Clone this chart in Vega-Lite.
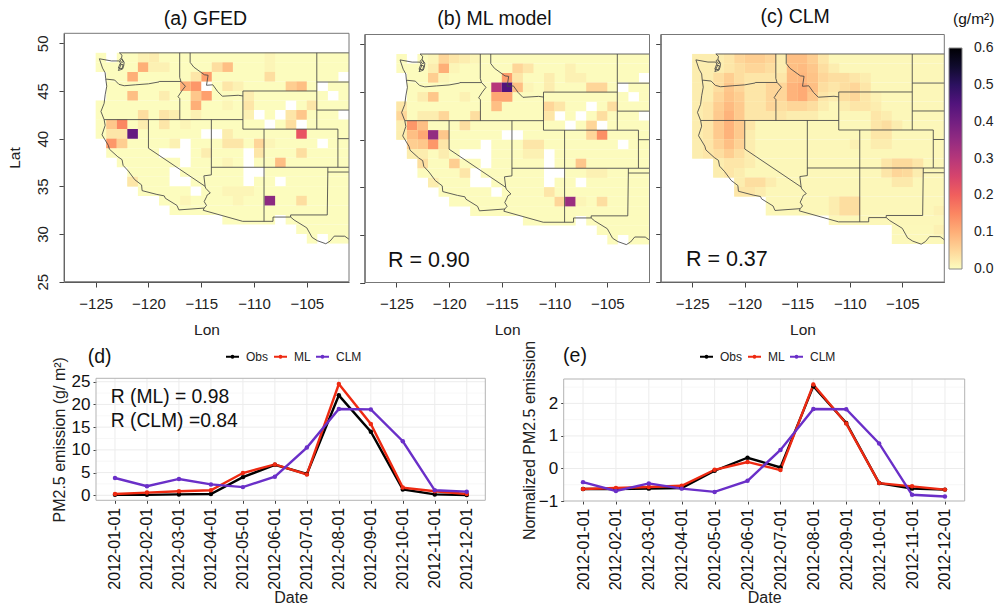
{"$schema":"https://vega.github.io/schema/vega-lite/v6.json","width":998,"height":607,"autosize":"none","padding":0,"background":"white",
"config":{"font":"Liberation Sans","view":{"stroke":null},"axis":{"grid":false,"domainColor":"#555","tickColor":"#444","labelColor":"#222","titleColor":"#222","titleFontWeight":"normal","labelFont":"Liberation Sans","titleFont":"Liberation Sans"}},
"datasets":{
"frame":[{"lon":-128,"lon2":-101,"lat":25,"lat2":51.05}],
"borders":[
{"s":1,"lon":-122.75,"lat":49},{"s":1,"lon":-101,"lat":49},
{"s":2,"lon":-122.75,"lat":49},{"s":2,"lon":-122.5,"lat":48.75},{"s":2,"lon":-122.55,"lat":48.45},{"s":2,"lon":-122.3,"lat":48.0},{"s":2,"lon":-122.35,"lat":47.6},{"s":2,"lon":-122.45,"lat":47.3},{"s":2,"lon":-122.85,"lat":47.15},{"s":2,"lon":-122.6,"lat":47.75},{"s":2,"lon":-122.75,"lat":48.15},{"s":2,"lon":-123.5,"lat":48.15},{"s":2,"lon":-124.65,"lat":48.38},{"s":2,"lon":-124.35,"lat":47.4},{"s":2,"lon":-124.1,"lat":46.9},{"s":2,"lon":-124.05,"lat":46.3},{"s":2,"lon":-123.95,"lat":45.5},{"s":2,"lon":-124.1,"lat":44.6},{"s":2,"lon":-124.2,"lat":43.7},{"s":2,"lon":-124.5,"lat":42.85},{"s":2,"lon":-124.2,"lat":42},{"s":2,"lon":-124.1,"lat":41.4},{"s":2,"lon":-124.4,"lat":40.4},{"s":2,"lon":-123.8,"lat":39.3},{"s":2,"lon":-123.7,"lat":38.9},{"s":2,"lon":-122.9,"lat":38.1},{"s":2,"lon":-122.5,"lat":37.8},{"s":2,"lon":-122.4,"lat":37.2},{"s":2,"lon":-121.9,"lat":36.6},{"s":2,"lon":-121.3,"lat":35.7},{"s":2,"lon":-120.65,"lat":35.15},{"s":2,"lon":-120.6,"lat":34.55},{"s":2,"lon":-119.2,"lat":34.15},{"s":2,"lon":-118.5,"lat":34},{"s":2,"lon":-118.4,"lat":33.75},{"s":2,"lon":-117.3,"lat":33},{"s":2,"lon":-117.12,"lat":32.53},{"s":2,"lon":-114.72,"lat":32.72},{"s":2,"lon":-114.81,"lat":32.49},{"s":2,"lon":-111.07,"lat":31.33},{"s":2,"lon":-108.2,"lat":31.33},{"s":2,"lon":-108.2,"lat":31.78},{"s":2,"lon":-106.53,"lat":31.78},{"s":2,"lon":-106.2,"lat":31.47},{"s":2,"lon":-105,"lat":30.65},{"s":2,"lon":-104.5,"lat":29.65},{"s":2,"lon":-104,"lat":29.3},{"s":2,"lon":-103.2,"lat":28.98},{"s":2,"lon":-102.8,"lat":29.25},{"s":2,"lon":-102.4,"lat":29.78},{"s":2,"lon":-101.4,"lat":29.77},{"s":2,"lon":-101,"lat":29.45},
{"s":3,"lon":-122.85,"lat":47.4},{"s":3,"lon":-122.5,"lat":47.35},{"s":3,"lon":-122.4,"lat":47.75},{"s":3,"lon":-122.7,"lat":47.85},{"s":3,"lon":-122.85,"lat":47.4},
{"s":4,"lon":-122.6,"lat":48.4},{"s":4,"lon":-122.35,"lat":48.05},{"s":4,"lon":-122.55,"lat":48.0},{"s":4,"lon":-122.72,"lat":48.3},{"s":4,"lon":-122.6,"lat":48.4},
{"s":5,"lon":-124.05,"lat":46.25},{"s":5,"lon":-123.2,"lat":46.15},{"s":5,"lon":-122.8,"lat":45.7},{"s":5,"lon":-122.3,"lat":45.55},{"s":5,"lon":-121.2,"lat":45.65},{"s":5,"lon":-120,"lat":45.75},{"s":5,"lon":-119,"lat":45.95},{"s":5,"lon":-118.98,"lat":46},{"s":5,"lon":-116.92,"lat":46},
{"s":6,"lon":-117.04,"lat":49},{"s":6,"lon":-117.04,"lat":46.42},{"s":6,"lon":-116.92,"lat":46},{"s":6,"lon":-116.5,"lat":45.5},{"s":6,"lon":-116.85,"lat":45},{"s":6,"lon":-117.2,"lat":44.4},{"s":6,"lon":-117.03,"lat":44.2},{"s":6,"lon":-117.03,"lat":42},
{"s":7,"lon":-124.2,"lat":42},{"s":7,"lon":-111.05,"lat":42},
{"s":8,"lon":-120,"lat":42},{"s":8,"lon":-120,"lat":39},{"s":8,"lon":-114.63,"lat":35},
{"s":9,"lon":-114.04,"lat":42},{"s":9,"lon":-114.04,"lat":36.2},{"s":9,"lon":-114.75,"lat":36.1},{"s":9,"lon":-114.63,"lat":35},{"s":9,"lon":-114.57,"lat":34.8},{"s":9,"lon":-114.14,"lat":34.3},{"s":9,"lon":-114.43,"lat":34.1},{"s":9,"lon":-114.5,"lat":33.9},{"s":9,"lon":-114.72,"lat":33.4},{"s":9,"lon":-114.5,"lat":33},{"s":9,"lon":-114.72,"lat":32.72},
{"s":10,"lon":-114.04,"lat":37},{"s":10,"lon":-102.04,"lat":37},{"s":10,"lon":-101,"lat":37},
{"s":11,"lon":-109.05,"lat":41},{"s":11,"lon":-109.05,"lat":31.33},
{"s":12,"lon":-103,"lat":37},{"s":12,"lon":-103.06,"lat":32},{"s":12,"lon":-106.53,"lat":32},{"s":12,"lon":-106.53,"lat":31.78},
{"s":13,"lon":-103,"lat":36.5},{"s":13,"lon":-101,"lat":36.5},
{"s":14,"lon":-111.05,"lat":45},{"s":14,"lon":-111.05,"lat":41},{"s":14,"lon":-102.05,"lat":41},{"s":14,"lon":-102.05,"lat":37},
{"s":15,"lon":-111.05,"lat":45},{"s":15,"lon":-104.05,"lat":45},
{"s":16,"lon":-104.05,"lat":49},{"s":16,"lon":-104.05,"lat":41},
{"s":17,"lon":-116.05,"lat":49},{"s":17,"lon":-116.05,"lat":48},{"s":17,"lon":-115.7,"lat":47.5},{"s":17,"lon":-114.7,"lat":46.7},{"s":17,"lon":-114.35,"lat":46.65},{"s":17,"lon":-114.5,"lat":45.6},{"s":17,"lon":-113.9,"lat":45.65},{"s":17,"lon":-113.45,"lat":44.95},{"s":17,"lon":-113,"lat":44.45},{"s":17,"lon":-111.5,"lat":44.55},{"s":17,"lon":-111.05,"lat":44.48},
{"s":18,"lon":-104.05,"lat":45.94},{"s":18,"lon":-101,"lat":45.94},
{"s":19,"lon":-104.05,"lat":43},{"s":19,"lon":-101,"lat":43},
{"s":20,"lon":-102.05,"lat":40},{"s":20,"lon":-101,"lat":40}
],
"a":[
{"lon":-125,"lon2":-124,"lat":48.5,"v":0.001},{"lon":-123,"lon2":-101,"lat":48.5,"v":0.001},{"lon":-125,"lon2":-101,"lat":47.5,"v":0.001},{"lon":-124,"lon2":-102,"lat":46.5,"v":0.001},{"lon":-124,"lon2":-115,"lat":45.5,"v":0.001},{"lon":-114,"lon2":-104,"lat":45.5,"v":0.001},{"lon":-103,"lon2":-101,"lat":45.5,"v":0.001},{"lon":-124,"lon2":-103,"lat":44.5,"v":0.001},{"lon":-102,"lon2":-101,"lat":44.5,"v":0.001},{"lon":-125,"lon2":-107,"lat":43.5,"v":0.001},{"lon":-106,"lon2":-101,"lat":43.5,"v":0.001},{"lon":-125,"lon2":-110,"lat":42.5,"v":0.001},{"lon":-109,"lon2":-108,"lat":42.5,"v":0.001},{"lon":-107,"lon2":-102,"lat":42.5,"v":0.001},{"lon":-125,"lon2":-109,"lat":41.5,"v":0.001},{"lon":-108,"lon2":-106,"lat":41.5,"v":0.001},{"lon":-105,"lon2":-101,"lat":41.5,"v":0.001},{"lon":-125,"lon2":-115,"lat":40.5,"v":0.001},{"lon":-113,"lon2":-101,"lat":40.5,"v":0.001},{"lon":-124,"lon2":-117,"lat":39.5,"v":0.001},{"lon":-116,"lon2":-104,"lat":39.5,"v":0.001},{"lon":-103,"lon2":-101,"lat":39.5,"v":0.001},{"lon":-124,"lon2":-119,"lat":38.5,"v":0.001},{"lon":-116,"lon2":-111,"lat":38.5,"v":0.001},{"lon":-110,"lon2":-101,"lat":38.5,"v":0.001},{"lon":-123,"lon2":-117,"lat":37.5,"v":0.001},{"lon":-116,"lon2":-111,"lat":37.5,"v":0.001},{"lon":-110,"lon2":-101,"lat":37.5,"v":0.001},{"lon":-122,"lon2":-118,"lat":36.5,"v":0.001},{"lon":-117,"lon2":-111,"lat":36.5,"v":0.001},{"lon":-109,"lon2":-101,"lat":36.5,"v":0.001},{"lon":-122,"lon2":-118,"lat":35.5,"v":0.001},{"lon":-116,"lon2":-111,"lat":35.5,"v":0.001},{"lon":-110,"lon2":-108,"lat":35.5,"v":0.001},{"lon":-107,"lon2":-101,"lat":35.5,"v":0.001},{"lon":-121,"lon2":-116,"lat":34.5,"v":0.001},{"lon":-115,"lon2":-101,"lat":34.5,"v":0.001},{"lon":-119,"lon2":-101,"lat":33.5,"v":0.001},{"lon":-118,"lon2":-101,"lat":32.5,"v":0.001},{"lon":-113,"lon2":-108,"lat":31.5,"v":0.001},{"lon":-107,"lon2":-101,"lat":31.5,"v":0.001},{"lon":-106,"lon2":-101,"lat":30.5,"v":0.001},{"lon":-105,"lon2":-104,"lat":29.5,"v":0.001},{"lon":-103,"lon2":-101,"lat":29.5,"v":0.001},
{"lon":-120,"lon2":-119,"lat":48.5,"v":0.02},{"lon":-121,"lon2":-120,"lat":48.5,"v":0.015},{"lon":-109,"lon2":-108,"lat":48.5,"v":0.01},
{"lon":-121,"lon2":-120,"lat":47.5,"v":0.1},{"lon":-120,"lon2":-118,"lat":47.5,"v":0.015},{"lon":-114,"lon2":-113,"lat":47.5,"v":0.04},{"lon":-113,"lon2":-112,"lat":47.5,"v":0.08},{"lon":-109,"lon2":-108,"lat":47.5,"v":0.01},
{"lon":-122,"lon2":-121,"lat":46.5,"v":0.1},{"lon":-115,"lon2":-114,"lat":46.5,"v":0.12},{"lon":-116,"lon2":-115,"lat":46.5,"v":0.03},{"lon":-109,"lon2":-108,"lat":46.5,"v":0.04},
{"lon":-117,"lon2":-116,"lat":45.5,"v":0.1},{"lon":-116,"lon2":-115,"lat":45.5,"v":0.13},{"lon":-113,"lon2":-112,"lat":45.5,"v":0.03},{"lon":-112,"lon2":-111,"lat":45.5,"v":0.015},{"lon":-107,"lon2":-106,"lat":45.5,"v":0.06},{"lon":-106,"lon2":-105,"lat":45.5,"v":0.08},
{"lon":-122,"lon2":-121,"lat":44.5,"v":0.08},{"lon":-119,"lon2":-118,"lat":44.5,"v":0.02},{"lon":-116,"lon2":-115,"lat":44.5,"v":0.07},{"lon":-115,"lon2":-114,"lat":44.5,"v":0.12},{"lon":-111,"lon2":-110,"lat":44.5,"v":0.02},
{"lon":-116,"lon2":-115,"lat":43.5,"v":0.1},{"lon":-113,"lon2":-112,"lat":43.5,"v":0.01},{"lon":-111,"lon2":-110,"lat":43.5,"v":0.03},{"lon":-105,"lon2":-104,"lat":43.5,"v":0.03},
{"lon":-121,"lon2":-120,"lat":42.5,"v":0.04},{"lon":-119,"lon2":-118,"lat":42.5,"v":0.03},{"lon":-118,"lon2":-117,"lat":42.5,"v":0.02},{"lon":-116,"lon2":-115,"lat":42.5,"v":0.015},{"lon":-111,"lon2":-110,"lat":42.5,"v":0.015},{"lon":-107,"lon2":-106,"lat":42.5,"v":0.03},{"lon":-106,"lon2":-105,"lat":42.5,"v":0.07},
{"lon":-124,"lon2":-123,"lat":41.5,"v":0.07},{"lon":-123,"lon2":-122,"lat":41.5,"v":0.15},{"lon":-121,"lon2":-120,"lat":41.5,"v":0.02},{"lon":-119,"lon2":-118,"lat":41.5,"v":0.03},{"lon":-117,"lon2":-116,"lat":41.5,"v":0.01},{"lon":-107,"lon2":-106,"lat":41.5,"v":0.04},
{"lon":-124,"lon2":-122,"lat":40.5,"v":0.03},{"lon":-122,"lon2":-121,"lat":40.5,"v":0.42},{"lon":-113,"lon2":-112,"lat":40.5,"v":0.02},{"lon":-106,"lon2":-105,"lat":40.5,"v":0.22},
{"lon":-124,"lon2":-123,"lat":39.5,"v":0.13},{"lon":-123,"lon2":-122,"lat":39.5,"v":0.06},{"lon":-118,"lon2":-117,"lat":39.5,"v":0.015},{"lon":-113,"lon2":-111,"lat":39.5,"v":0.03},{"lon":-110,"lon2":-109,"lat":39.5,"v":0.05},{"lon":-109,"lon2":-108,"lat":39.5,"v":0.01},
{"lon":-115,"lon2":-114,"lat":38.5,"v":0.02},{"lon":-110,"lon2":-109,"lat":38.5,"v":0.03},{"lon":-106,"lon2":-105,"lat":38.5,"v":0.04},
{"lon":-113,"lon2":-112,"lat":37.5,"v":0.01},{"lon":-108,"lon2":-107,"lat":37.5,"v":0.08},
{"lon":-122,"lon2":-121,"lat":35.5,"v":0.03},
{"lon":-113,"lon2":-110,"lat":34.5,"v":0.01},
{"lon":-109,"lon2":-108,"lat":33.5,"v":0.36},{"lon":-106,"lon2":-105,"lat":33.5,"v":0.04},{"lon":-117,"lon2":-116,"lat":33.5,"v":0.01},{"lon":-112,"lon2":-111,"lat":33.5,"v":0.01}
],
"b":[
{"lon":-125,"lon2":-124,"lat":48.5,"v":0.003},{"lon":-123,"lon2":-101,"lat":48.5,"v":0.003},{"lon":-125,"lon2":-101,"lat":47.5,"v":0.003},{"lon":-124,"lon2":-102,"lat":46.5,"v":0.003},{"lon":-124,"lon2":-104,"lat":45.5,"v":0.003},{"lon":-103,"lon2":-101,"lat":45.5,"v":0.003},{"lon":-124,"lon2":-103,"lat":44.5,"v":0.003},{"lon":-102,"lon2":-101,"lat":44.5,"v":0.003},{"lon":-125,"lon2":-107,"lat":43.5,"v":0.003},{"lon":-106,"lon2":-101,"lat":43.5,"v":0.003},{"lon":-125,"lon2":-110,"lat":42.5,"v":0.003},{"lon":-109,"lon2":-108,"lat":42.5,"v":0.003},{"lon":-107,"lon2":-102,"lat":42.5,"v":0.003},{"lon":-125,"lon2":-109,"lat":41.5,"v":0.003},{"lon":-108,"lon2":-106,"lat":41.5,"v":0.003},{"lon":-105,"lon2":-101,"lat":41.5,"v":0.003},{"lon":-125,"lon2":-115,"lat":40.5,"v":0.003},{"lon":-113,"lon2":-101,"lat":40.5,"v":0.003},{"lon":-124,"lon2":-117,"lat":39.5,"v":0.003},{"lon":-116,"lon2":-104,"lat":39.5,"v":0.003},{"lon":-103,"lon2":-101,"lat":39.5,"v":0.003},{"lon":-124,"lon2":-119,"lat":38.5,"v":0.003},{"lon":-116,"lon2":-111,"lat":38.5,"v":0.003},{"lon":-110,"lon2":-101,"lat":38.5,"v":0.003},{"lon":-123,"lon2":-117,"lat":37.5,"v":0.003},{"lon":-116,"lon2":-111,"lat":37.5,"v":0.003},{"lon":-110,"lon2":-101,"lat":37.5,"v":0.003},{"lon":-123,"lon2":-118,"lat":36.5,"v":0.003},{"lon":-117,"lon2":-111,"lat":36.5,"v":0.003},{"lon":-109,"lon2":-101,"lat":36.5,"v":0.003},{"lon":-122,"lon2":-118,"lat":35.5,"v":0.003},{"lon":-116,"lon2":-111,"lat":35.5,"v":0.003},{"lon":-110,"lon2":-108,"lat":35.5,"v":0.003},{"lon":-107,"lon2":-101,"lat":35.5,"v":0.003},{"lon":-121,"lon2":-116,"lat":34.5,"v":0.003},{"lon":-115,"lon2":-101,"lat":34.5,"v":0.003},{"lon":-120,"lon2":-101,"lat":33.5,"v":0.003},{"lon":-118,"lon2":-101,"lat":32.5,"v":0.003},{"lon":-113,"lon2":-108,"lat":31.5,"v":0.003},{"lon":-107,"lon2":-101,"lat":31.5,"v":0.003},{"lon":-106,"lon2":-101,"lat":30.5,"v":0.003},{"lon":-105,"lon2":-104,"lat":29.5,"v":0.003},{"lon":-103,"lon2":-101,"lat":29.5,"v":0.003},
{"lon":-122,"lon2":-121,"lat":48.5,"v":0.01},{"lon":-121,"lon2":-120,"lat":48.5,"v":0.05},{"lon":-120,"lon2":-119,"lat":48.5,"v":0.03},{"lon":-119,"lon2":-118,"lat":48.5,"v":0.02},{"lon":-118,"lon2":-117,"lat":48.5,"v":0.01},
{"lon":-122,"lon2":-121,"lat":47.5,"v":0.02},{"lon":-121,"lon2":-120,"lat":47.5,"v":0.1},{"lon":-120,"lon2":-119,"lat":47.5,"v":0.01},{"lon":-114,"lon2":-113,"lat":47.5,"v":0.05},{"lon":-113,"lon2":-112,"lat":47.5,"v":0.03},{"lon":-109,"lon2":-108,"lat":47.5,"v":0.015},
{"lon":-122,"lon2":-121,"lat":46.5,"v":0.06},{"lon":-121,"lon2":-120,"lat":46.5,"v":0.01},{"lon":-115,"lon2":-114,"lat":46.5,"v":0.12},{"lon":-114,"lon2":-113,"lat":46.5,"v":0.03},{"lon":-111,"lon2":-110,"lat":46.5,"v":0.02},{"lon":-109,"lon2":-107,"lat":46.5,"v":0.015},
{"lon":-116,"lon2":-115,"lat":45.5,"v":0.3},{"lon":-115,"lon2":-114,"lat":45.5,"v":0.45},{"lon":-114,"lon2":-113,"lat":45.5,"v":0.08},{"lon":-113,"lon2":-112,"lat":45.5,"v":0.01},{"lon":-111,"lon2":-110,"lat":45.5,"v":0.02},{"lon":-107,"lon2":-105,"lat":45.5,"v":0.05},
{"lon":-123,"lon2":-122,"lat":44.5,"v":0.02},{"lon":-122,"lon2":-121,"lat":44.5,"v":0.07},{"lon":-119,"lon2":-118,"lat":44.5,"v":0.015},{"lon":-116,"lon2":-114,"lat":44.5,"v":0.11},
{"lon":-125,"lon2":-124,"lat":43.5,"v":0.03},{"lon":-116,"lon2":-115,"lat":43.5,"v":0.08},{"lon":-111,"lon2":-110,"lat":43.5,"v":0.05},{"lon":-110,"lon2":-109,"lat":43.5,"v":0.03},{"lon":-105,"lon2":-104,"lat":43.5,"v":0.04},
{"lon":-125,"lon2":-124,"lat":42.5,"v":0.05},{"lon":-123,"lon2":-121,"lat":42.5,"v":0.02},{"lon":-121,"lon2":-120,"lat":42.5,"v":0.05},{"lon":-118,"lon2":-117,"lat":42.5,"v":0.04},{"lon":-111,"lon2":-110,"lat":42.5,"v":0.03},{"lon":-106,"lon2":-105,"lat":42.5,"v":0.04},
{"lon":-125,"lon2":-124,"lat":41.5,"v":0.02},{"lon":-124,"lon2":-123,"lat":41.5,"v":0.13},{"lon":-123,"lon2":-122,"lat":41.5,"v":0.08},{"lon":-119,"lon2":-118,"lat":41.5,"v":0.04},{"lon":-107,"lon2":-106,"lat":41.5,"v":0.05},
{"lon":-125,"lon2":-124,"lat":40.5,"v":0.02},{"lon":-124,"lon2":-123,"lat":40.5,"v":0.08},{"lon":-123,"lon2":-122,"lat":40.5,"v":0.11},{"lon":-122,"lon2":-121,"lat":40.5,"v":0.35},{"lon":-121,"lon2":-120,"lat":40.5,"v":0.07},{"lon":-107,"lon2":-106,"lat":40.5,"v":0.05},{"lon":-106,"lon2":-105,"lat":40.5,"v":0.14},
{"lon":-124,"lon2":-123,"lat":39.5,"v":0.06},{"lon":-123,"lon2":-122,"lat":39.5,"v":0.07},{"lon":-122,"lon2":-121,"lat":39.5,"v":0.13},{"lon":-121,"lon2":-120,"lat":39.5,"v":0.03},{"lon":-113,"lon2":-111,"lat":39.5,"v":0.03},
{"lon":-124,"lon2":-122,"lat":38.5,"v":0.02},{"lon":-121,"lon2":-120,"lat":38.5,"v":0.02},{"lon":-113,"lon2":-111,"lat":38.5,"v":0.015},
{"lon":-123,"lon2":-122,"lat":37.5,"v":0.04},{"lon":-120,"lon2":-119,"lat":37.5,"v":0.06},{"lon":-108,"lon2":-107,"lat":37.5,"v":0.07},
{"lon":-119,"lon2":-118,"lat":36.5,"v":0.03},{"lon":-107,"lon2":-105,"lat":36.5,"v":0.015},
{"lon":-122,"lon2":-121,"lat":35.5,"v":0.02},
{"lon":-111,"lon2":-110,"lat":34.5,"v":0.03},
{"lon":-110,"lon2":-109,"lat":33.5,"v":0.05},{"lon":-109,"lon2":-108,"lat":33.5,"v":0.34},{"lon":-108,"lon2":-107,"lat":33.5,"v":0.01},{"lon":-106,"lon2":-105,"lat":33.5,"v":0.04}
],
"c":[
{"lon":-125,"lon2":-101,"lat":48.5,"v":0.008},{"lon":-125,"lon2":-101,"lat":47.5,"v":0.008},{"lon":-125,"lon2":-101,"lat":46.5,"v":0.008},{"lon":-125,"lon2":-101,"lat":45.5,"v":0.008},{"lon":-125,"lon2":-101,"lat":44.5,"v":0.008},{"lon":-125,"lon2":-101,"lat":43.5,"v":0.008},{"lon":-125,"lon2":-101,"lat":42.5,"v":0.008},{"lon":-125,"lon2":-101,"lat":41.5,"v":0.008},{"lon":-125,"lon2":-101,"lat":40.5,"v":0.008},{"lon":-125,"lon2":-101,"lat":39.5,"v":0.008},{"lon":-125,"lon2":-101,"lat":38.5,"v":0.008},{"lon":-123,"lon2":-101,"lat":37.5,"v":0.008},{"lon":-123,"lon2":-101,"lat":36.5,"v":0.008},{"lon":-121,"lon2":-101,"lat":35.5,"v":0.008},{"lon":-121,"lon2":-101,"lat":34.5,"v":0.008},{"lon":-118,"lon2":-101,"lat":33.5,"v":0.008},{"lon":-118,"lon2":-101,"lat":32.5,"v":0.008},{"lon":-112,"lon2":-101,"lat":31.5,"v":0.008},{"lon":-106,"lon2":-101,"lat":30.5,"v":0.006},{"lon":-106,"lon2":-101,"lat":29.5,"v":0.006},
{"lon":-125,"lon2":-122,"lat":48.5,"v":0.02},{"lon":-122,"lon2":-121,"lat":48.5,"v":0.03},{"lon":-121,"lon2":-120,"lat":48.5,"v":0.05},{"lon":-120,"lon2":-118,"lat":48.5,"v":0.06},{"lon":-118,"lon2":-117,"lat":48.5,"v":0.05},{"lon":-117,"lon2":-116,"lat":48.5,"v":0.02},{"lon":-116,"lon2":-114,"lat":48.5,"v":0.08},{"lon":-114,"lon2":-113,"lat":48.5,"v":0.06},{"lon":-113,"lon2":-112,"lat":48.5,"v":0.03},
{"lon":-125,"lon2":-122,"lat":47.5,"v":0.02},{"lon":-122,"lon2":-121,"lat":47.5,"v":0.03},{"lon":-121,"lon2":-120,"lat":47.5,"v":0.04},{"lon":-120,"lon2":-118,"lat":47.5,"v":0.05},{"lon":-118,"lon2":-117,"lat":47.5,"v":0.04},{"lon":-117,"lon2":-116,"lat":47.5,"v":0.02},{"lon":-116,"lon2":-115,"lat":47.5,"v":0.08},{"lon":-115,"lon2":-114,"lat":47.5,"v":0.085},{"lon":-114,"lon2":-113,"lat":47.5,"v":0.07},{"lon":-113,"lon2":-112,"lat":47.5,"v":0.04},{"lon":-112,"lon2":-111,"lat":47.5,"v":0.02},
{"lon":-125,"lon2":-123,"lat":46.5,"v":0.02},{"lon":-123,"lon2":-122,"lat":46.5,"v":0.04},{"lon":-122,"lon2":-121,"lat":46.5,"v":0.06},{"lon":-121,"lon2":-120,"lat":46.5,"v":0.04},{"lon":-120,"lon2":-116,"lat":46.5,"v":0.03},{"lon":-116,"lon2":-115,"lat":46.5,"v":0.085},{"lon":-115,"lon2":-114,"lat":46.5,"v":0.09},{"lon":-114,"lon2":-113,"lat":46.5,"v":0.075},{"lon":-113,"lon2":-112,"lat":46.5,"v":0.05},{"lon":-112,"lon2":-110,"lat":46.5,"v":0.04},{"lon":-110,"lon2":-109,"lat":46.5,"v":0.03},{"lon":-109,"lon2":-108,"lat":46.5,"v":0.02},
{"lon":-125,"lon2":-123,"lat":45.5,"v":0.02},{"lon":-123,"lon2":-122,"lat":45.5,"v":0.04},{"lon":-122,"lon2":-121,"lat":45.5,"v":0.07},{"lon":-121,"lon2":-120,"lat":45.5,"v":0.05},{"lon":-120,"lon2":-118,"lat":45.5,"v":0.03},{"lon":-118,"lon2":-116,"lat":45.5,"v":0.05},{"lon":-116,"lon2":-115,"lat":45.5,"v":0.095},{"lon":-115,"lon2":-114,"lat":45.5,"v":0.105},{"lon":-114,"lon2":-113,"lat":45.5,"v":0.08},{"lon":-113,"lon2":-112,"lat":45.5,"v":0.04},{"lon":-112,"lon2":-111,"lat":45.5,"v":0.03},{"lon":-111,"lon2":-110,"lat":45.5,"v":0.04},{"lon":-110,"lon2":-109,"lat":45.5,"v":0.05},{"lon":-109,"lon2":-108,"lat":45.5,"v":0.03},
{"lon":-125,"lon2":-123,"lat":44.5,"v":0.02},{"lon":-123,"lon2":-122,"lat":44.5,"v":0.05},{"lon":-122,"lon2":-121,"lat":44.5,"v":0.075},{"lon":-121,"lon2":-120,"lat":44.5,"v":0.06},{"lon":-120,"lon2":-118,"lat":44.5,"v":0.03},{"lon":-118,"lon2":-116,"lat":44.5,"v":0.05},{"lon":-116,"lon2":-115,"lat":44.5,"v":0.095},{"lon":-115,"lon2":-114,"lat":44.5,"v":0.105},{"lon":-114,"lon2":-113,"lat":44.5,"v":0.07},{"lon":-113,"lon2":-112,"lat":44.5,"v":0.03},{"lon":-112,"lon2":-111,"lat":44.5,"v":0.02},{"lon":-111,"lon2":-110,"lat":44.5,"v":0.04},{"lon":-110,"lon2":-109,"lat":44.5,"v":0.05},{"lon":-109,"lon2":-108,"lat":44.5,"v":0.03},{"lon":-108,"lon2":-107,"lat":44.5,"v":0.015},
{"lon":-125,"lon2":-124,"lat":43.5,"v":0.02},{"lon":-124,"lon2":-123,"lat":43.5,"v":0.03},{"lon":-123,"lon2":-122,"lat":43.5,"v":0.06},{"lon":-122,"lon2":-121,"lat":43.5,"v":0.085},{"lon":-121,"lon2":-120,"lat":43.5,"v":0.065},{"lon":-120,"lon2":-118,"lat":43.5,"v":0.03},{"lon":-118,"lon2":-117,"lat":43.5,"v":0.05},{"lon":-117,"lon2":-116,"lat":43.5,"v":0.04},{"lon":-116,"lon2":-114,"lat":43.5,"v":0.05},{"lon":-114,"lon2":-113,"lat":43.5,"v":0.04},{"lon":-113,"lon2":-112,"lat":43.5,"v":0.02},{"lon":-111,"lon2":-110,"lat":43.5,"v":0.02},{"lon":-110,"lon2":-108,"lat":43.5,"v":0.03},{"lon":-108,"lon2":-107,"lat":43.5,"v":0.02},
{"lon":-125,"lon2":-124,"lat":42.5,"v":0.02},{"lon":-124,"lon2":-123,"lat":42.5,"v":0.03},{"lon":-123,"lon2":-122,"lat":42.5,"v":0.065},{"lon":-122,"lon2":-121,"lat":42.5,"v":0.095},{"lon":-121,"lon2":-120,"lat":42.5,"v":0.065},{"lon":-120,"lon2":-116,"lat":42.5,"v":0.03},{"lon":-116,"lon2":-113,"lat":42.5,"v":0.02},{"lon":-108,"lon2":-107,"lat":42.5,"v":0.03},{"lon":-107,"lon2":-106,"lat":42.5,"v":0.02},
{"lon":-125,"lon2":-124,"lat":41.5,"v":0.02},{"lon":-124,"lon2":-123,"lat":41.5,"v":0.03},{"lon":-123,"lon2":-122,"lat":41.5,"v":0.065},{"lon":-122,"lon2":-121,"lat":41.5,"v":0.095},{"lon":-121,"lon2":-120,"lat":41.5,"v":0.065},{"lon":-120,"lon2":-119,"lat":41.5,"v":0.03},{"lon":-108,"lon2":-107,"lat":41.5,"v":0.03},{"lon":-107,"lon2":-106,"lat":41.5,"v":0.04},{"lon":-106,"lon2":-105,"lat":41.5,"v":0.02},
{"lon":-125,"lon2":-124,"lat":40.5,"v":0.02},{"lon":-124,"lon2":-123,"lat":40.5,"v":0.03},{"lon":-123,"lon2":-122,"lat":40.5,"v":0.065},{"lon":-122,"lon2":-121,"lat":40.5,"v":0.095},{"lon":-121,"lon2":-120,"lat":40.5,"v":0.065},{"lon":-120,"lon2":-119,"lat":40.5,"v":0.02},{"lon":-108,"lon2":-106,"lat":40.5,"v":0.03},
{"lon":-125,"lon2":-124,"lat":39.5,"v":0.02},{"lon":-124,"lon2":-123,"lat":39.5,"v":0.03},{"lon":-123,"lon2":-122,"lat":39.5,"v":0.055},{"lon":-122,"lon2":-121,"lat":39.5,"v":0.08},{"lon":-121,"lon2":-120,"lat":39.5,"v":0.055},{"lon":-120,"lon2":-119,"lat":39.5,"v":0.02},{"lon":-110,"lon2":-109,"lat":39.5,"v":0.015},{"lon":-108,"lon2":-106,"lat":39.5,"v":0.02},
{"lon":-125,"lon2":-124,"lat":38.5,"v":0.02},{"lon":-124,"lon2":-123,"lat":38.5,"v":0.03},{"lon":-123,"lon2":-122,"lat":38.5,"v":0.04},{"lon":-122,"lon2":-121,"lat":38.5,"v":0.06},{"lon":-121,"lon2":-120,"lat":38.5,"v":0.04},{"lon":-120,"lon2":-119,"lat":38.5,"v":0.02},
{"lon":-123,"lon2":-122,"lat":37.5,"v":0.02},{"lon":-122,"lon2":-120,"lat":37.5,"v":0.03},{"lon":-120,"lon2":-119,"lat":37.5,"v":0.02},{"lon":-107,"lon2":-106,"lat":37.5,"v":0.03},{"lon":-106,"lon2":-104,"lat":37.5,"v":0.045},{"lon":-104,"lon2":-103,"lat":37.5,"v":0.03},
{"lon":-123,"lon2":-122,"lat":36.5,"v":0.02},{"lon":-122,"lon2":-121,"lat":36.5,"v":0.03},{"lon":-121,"lon2":-120,"lat":36.5,"v":0.02},{"lon":-107,"lon2":-106,"lat":36.5,"v":0.03},{"lon":-106,"lon2":-105,"lat":36.5,"v":0.05},{"lon":-105,"lon2":-104,"lat":36.5,"v":0.045},{"lon":-104,"lon2":-103,"lat":36.5,"v":0.02},
{"lon":-121,"lon2":-120,"lat":35.5,"v":0.02},{"lon":-120,"lon2":-118,"lat":35.5,"v":0.04},{"lon":-118,"lon2":-117,"lat":35.5,"v":0.02},{"lon":-106,"lon2":-104,"lat":35.5,"v":0.025},
{"lon":-121,"lon2":-119,"lat":34.5,"v":0.03},{"lon":-119,"lon2":-118,"lat":34.5,"v":0.02},
{"lon":-112,"lon2":-111,"lat":33.5,"v":0.02},{"lon":-111,"lon2":-109,"lat":33.5,"v":0.04},
{"lon":-112,"lon2":-111,"lat":32.5,"v":0.02},{"lon":-111,"lon2":-109,"lat":32.5,"v":0.04},{"lon":-102,"lon2":-101,"lat":32.5,"v":0.015},
{"lon":-102,"lon2":-101,"lat":30.5,"v":0.015}
],
"gridd_major":[{"m":1,"m2":1,"y":-1.1,"y2":25.75},{"m":2,"m2":2,"y":-1.1,"y2":25.75},{"m":3,"m2":3,"y":-1.1,"y2":25.75},{"m":4,"m2":4,"y":-1.1,"y2":25.75},{"m":5,"m2":5,"y":-1.1,"y2":25.75},{"m":6,"m2":6,"y":-1.1,"y2":25.75},{"m":7,"m2":7,"y":-1.1,"y2":25.75},{"m":8,"m2":8,"y":-1.1,"y2":25.75},{"m":9,"m2":9,"y":-1.1,"y2":25.75},{"m":10,"m2":10,"y":-1.1,"y2":25.75},{"m":11,"m2":11,"y":-1.1,"y2":25.75},{"m":12,"m2":12,"y":-1.1,"y2":25.75},{"m":0.406,"m2":12.58,"y":0,"y2":0},{"m":0.406,"m2":12.58,"y":5,"y2":5},{"m":0.406,"m2":12.58,"y":10,"y2":10},{"m":0.406,"m2":12.58,"y":15,"y2":15},{"m":0.406,"m2":12.58,"y":20,"y2":20},{"m":0.406,"m2":12.58,"y":25,"y2":25}],
"gridd_minor":[{"m":0.406,"m2":12.58,"y":2.5,"y2":2.5},{"m":0.406,"m2":12.58,"y":7.5,"y2":7.5},{"m":0.406,"m2":12.58,"y":12.5,"y2":12.5},{"m":0.406,"m2":12.58,"y":17.5,"y2":17.5},{"m":0.406,"m2":12.58,"y":22.5,"y2":22.5}],
"gride_major":[{"m":1,"m2":1,"y":-1,"y2":2.75},{"m":2,"m2":2,"y":-1,"y2":2.75},{"m":3,"m2":3,"y":-1,"y2":2.75},{"m":4,"m2":4,"y":-1,"y2":2.75},{"m":5,"m2":5,"y":-1,"y2":2.75},{"m":6,"m2":6,"y":-1,"y2":2.75},{"m":7,"m2":7,"y":-1,"y2":2.75},{"m":8,"m2":8,"y":-1,"y2":2.75},{"m":9,"m2":9,"y":-1,"y2":2.75},{"m":10,"m2":10,"y":-1,"y2":2.75},{"m":11,"m2":11,"y":-1,"y2":2.75},{"m":12,"m2":12,"y":-1,"y2":2.75},{"m":0.413,"m2":12.6,"y":0,"y2":0},{"m":0.413,"m2":12.6,"y":1,"y2":1},{"m":0.413,"m2":12.6,"y":2,"y2":2}],
"gride_minor":[{"m":0.413,"m2":12.6,"y":-0.5,"y2":-0.5},{"m":0.413,"m2":12.6,"y":0.5,"y2":0.5},{"m":0.413,"m2":12.6,"y":1.5,"y2":1.5},{"m":0.413,"m2":12.6,"y":2.5,"y2":2.5}],
"d":[
{"m":1,"s":"Obs","y":0.1},{"m":2,"s":"Obs","y":0.1},{"m":3,"s":"Obs","y":0.2},{"m":4,"s":"Obs","y":0.3},{"m":5,"s":"Obs","y":4.0},{"m":6,"s":"Obs","y":6.7},{"m":7,"s":"Obs","y":4.7},{"m":8,"s":"Obs","y":22},{"m":9,"s":"Obs","y":14},{"m":10,"s":"Obs","y":1.3},{"m":11,"s":"Obs","y":0.2},{"m":12,"s":"Obs","y":0.05},
{"m":1,"s":"ML","y":0.3},{"m":2,"s":"ML","y":0.6},{"m":3,"s":"ML","y":0.9},{"m":4,"s":"ML","y":1.1},{"m":5,"s":"ML","y":4.9},{"m":6,"s":"ML","y":6.8},{"m":7,"s":"ML","y":4.6},{"m":8,"s":"ML","y":24.5},{"m":9,"s":"ML","y":15.7},{"m":10,"s":"ML","y":1.7},{"m":11,"s":"ML","y":0.9},{"m":12,"s":"ML","y":0.3},
{"m":1,"s":"CLM","y":3.8},{"m":2,"s":"CLM","y":2.0},{"m":3,"s":"CLM","y":3.6},{"m":4,"s":"CLM","y":2.4},{"m":5,"s":"CLM","y":1.8},{"m":6,"s":"CLM","y":4.1},{"m":7,"s":"CLM","y":10.5},{"m":8,"s":"CLM","y":19},{"m":9,"s":"CLM","y":18.9},{"m":10,"s":"CLM","y":11.9},{"m":11,"s":"CLM","y":1.1},{"m":12,"s":"CLM","y":0.8}
],
"e":[
{"m":1,"s":"Obs","y":-0.63},{"m":2,"s":"Obs","y":-0.63},{"m":3,"s":"Obs","y":-0.62},{"m":4,"s":"Obs","y":-0.6},{"m":5,"s":"Obs","y":-0.07},{"m":6,"s":"Obs","y":0.33},{"m":7,"s":"Obs","y":0.03},{"m":8,"s":"Obs","y":2.53},{"m":9,"s":"Obs","y":1.4},{"m":10,"s":"Obs","y":-0.45},{"m":11,"s":"Obs","y":-0.62},{"m":12,"s":"Obs","y":-0.65},
{"m":1,"s":"ML","y":-0.63},{"m":2,"s":"ML","y":-0.6},{"m":3,"s":"ML","y":-0.57},{"m":4,"s":"ML","y":-0.53},{"m":5,"s":"ML","y":-0.04},{"m":6,"s":"ML","y":0.2},{"m":7,"s":"ML","y":-0.05},{"m":8,"s":"ML","y":2.58},{"m":9,"s":"ML","y":1.38},{"m":10,"s":"ML","y":-0.45},{"m":11,"s":"ML","y":-0.55},{"m":12,"s":"ML","y":-0.65},
{"m":1,"s":"CLM","y":-0.42},{"m":2,"s":"CLM","y":-0.69},{"m":3,"s":"CLM","y":-0.46},{"m":4,"s":"CLM","y":-0.62},{"m":5,"s":"CLM","y":-0.72},{"m":6,"s":"CLM","y":-0.38},{"m":7,"s":"CLM","y":0.57},{"m":8,"s":"CLM","y":1.83},{"m":9,"s":"CLM","y":1.82},{"m":10,"s":"CLM","y":0.77},{"m":11,"s":"CLM","y":-0.81},{"m":12,"s":"CLM","y":-0.86}
]
},
"resolve":{"scale":{"x":"independent","y":"independent","color":"independent"},"axis":{"x":"independent","y":"independent"},"legend":{"color":"independent"}},
"layer":[
{"layer":[
{"data":{"name":"a"},"mark":{"type":"rect","height":9.6},"encoding":{
"x":{"field":"lon","type":"quantitative","scale":{"domain":[-128,-101],"range":[64,349],"nice":false,"zero":false},"axis":{"orient":"bottom","offset":-325,"values":[-125,-120,-115,-110,-105],"title":"Lon","format":"d","labelFontSize":15,"titleFontSize":15.5,"labelPadding":9,"titlePadding":11,"tickSize":5,"grid":false}},
"x2":{"field":"lon2"},
"y":{"field":"lat","type":"quantitative","scale":{"domain":[25,51.05],"range":[281.7,33.3],"nice":false,"zero":false},"axis":{"orient":"left","offset":-64,"values":[25,30,35,40,45,50],"title":"Lat","format":"d","labelFontSize":15,"titleFontSize":15.5,"labelAngle":-90,"labelAlign":"center","labelBaseline":"bottom","labelPadding":9,"titlePadding":13,"tickSize":5,"grid":false}},
"color":{"field":"v","type":"quantitative","scale":{"scheme":"magma","reverse":true,"domain":[0,0.6]},"legend":null}}},
{"data":{"name":"borders"},"transform":[{"window":[{"op":"row_number","as":"i"}]}],"mark":{"type":"line","stroke":"#444","strokeWidth":0.85},"encoding":{"x":{"field":"lon","type":"quantitative"},"y":{"field":"lat","type":"quantitative"},"detail":{"field":"s"},"order":{"field":"i","type":"quantitative"}}},
{"data":{"name":"frame"},"mark":{"type":"rect","fill":null,"stroke":"#777","strokeWidth":1},"encoding":{"x":{"field":"lon","type":"quantitative"},"x2":{"field":"lon2"},"y":{"field":"lat","type":"quantitative"},"y2":{"field":"lat2"}}},
{"data":{"values":[{"lon":-114.6,"lat":52.5,"t":"(a) GFED"}]},"mark":{"type":"text","fontSize":19.5,"color":"#111"},"encoding":{"x":{"field":"lon","type":"quantitative"},"y":{"field":"lat","type":"quantitative"},"text":{"field":"t"}}}
]},
{"layer":[
{"data":{"name":"b"},"mark":{"type":"rect","height":9.6},"encoding":{
"x":{"field":"lon","type":"quantitative","scale":{"domain":[-128,-101],"range":[364.7,649.5],"nice":false,"zero":false},"axis":{"orient":"bottom","offset":-325,"values":[-125,-120,-115,-110,-105],"title":"Lon","format":"d","labelFontSize":15,"titleFontSize":15.5,"labelPadding":9,"titlePadding":11,"tickSize":5,"grid":false}},
"x2":{"field":"lon2"},
"y":{"field":"lat","type":"quantitative","scale":{"domain":[25,51.05],"range":[282.5,34.5],"nice":false,"zero":false},"axis":{"orient":"left","offset":-364.7,"values":[25,30,35,40,45,50],"title":null,"labels":false,"tickSize":5,"grid":false}},
"color":{"field":"v","type":"quantitative","scale":{"scheme":"magma","reverse":true,"domain":[0,0.6]},"legend":null}}},
{"data":{"name":"borders"},"transform":[{"window":[{"op":"row_number","as":"i"}]}],"mark":{"type":"line","stroke":"#444","strokeWidth":0.85},"encoding":{"x":{"field":"lon","type":"quantitative"},"y":{"field":"lat","type":"quantitative"},"detail":{"field":"s"},"order":{"field":"i","type":"quantitative"}}},
{"data":{"name":"frame"},"mark":{"type":"rect","fill":null,"stroke":"#777","strokeWidth":1},"encoding":{"x":{"field":"lon","type":"quantitative"},"x2":{"field":"lon2"},"y":{"field":"lat","type":"quantitative"},"y2":{"field":"lat2"}}},
{"data":{"values":[{"lon":-115.7,"lat":52.7,"t":"(b) ML model"}]},"mark":{"type":"text","fontSize":19.5,"color":"#111"},"encoding":{"x":{"field":"lon","type":"quantitative"},"y":{"field":"lat","type":"quantitative"},"text":{"field":"t"}}},
{"data":{"values":[{"lon":-125.8,"lat":27.3,"t":"R = 0.90"}]},"mark":{"type":"text","fontSize":21.5,"align":"left","color":"#111"},"encoding":{"x":{"field":"lon","type":"quantitative"},"y":{"field":"lat","type":"quantitative"},"text":{"field":"t"}}}
]},
{"layer":[
{"data":{"name":"c"},"mark":{"type":"rect","height":9.6},"encoding":{
"x":{"field":"lon","type":"quantitative","scale":{"domain":[-128,-101],"range":[660.7,944.3],"nice":false,"zero":false},"axis":{"orient":"bottom","offset":-325,"values":[-125,-120,-115,-110,-105],"title":"Lon","format":"d","labelFontSize":15,"titleFontSize":15.5,"labelPadding":9,"titlePadding":11,"tickSize":5,"grid":false}},
"x2":{"field":"lon2"},
"y":{"field":"lat","type":"quantitative","scale":{"domain":[25,51.05],"range":[282,34.5],"nice":false,"zero":false},"axis":{"orient":"left","offset":-660.7,"values":[25,30,35,40,45,50],"title":null,"labels":false,"tickSize":5,"grid":false}},
"color":{"field":"v","type":"quantitative","scale":{"scheme":"magma","reverse":true,"domain":[0,0.6]},"legend":{"orient":"none","legendX":949,"legendY":48,"gradientLength":221,"gradientThickness":13,"title":null,"values":[0,0.1,0.2,0.3,0.4,0.5,0.6],"format":".1f","labelFontSize":14,"labelColor":"#222","labelOffset":12,"gradientStrokeColor":"#888","gradientStrokeWidth":1,"encode":{"labels":{"update":{"baseline":{"value":"middle"}}}}}}}},
{"data":{"name":"borders"},"transform":[{"window":[{"op":"row_number","as":"i"}]}],"mark":{"type":"line","stroke":"#444","strokeWidth":0.85},"encoding":{"x":{"field":"lon","type":"quantitative"},"y":{"field":"lat","type":"quantitative"},"detail":{"field":"s"},"order":{"field":"i","type":"quantitative"}}},
{"data":{"name":"frame"},"mark":{"type":"rect","fill":null,"stroke":"#777","strokeWidth":1},"encoding":{"x":{"field":"lon","type":"quantitative"},"x2":{"field":"lon2"},"y":{"field":"lat","type":"quantitative"},"y2":{"field":"lat2"}}},
{"data":{"values":[{"lon":-115.2,"lat":52.9,"t":"(c) CLM"}]},"mark":{"type":"text","fontSize":19.5,"color":"#111"},"encoding":{"x":{"field":"lon","type":"quantitative"},"y":{"field":"lat","type":"quantitative"},"text":{"field":"t"}}},
{"data":{"values":[{"lon":-98.2,"lat":52.7,"t":"(g/m²)"}]},"mark":{"type":"text","fontSize":15.5,"color":"#111"},"encoding":{"x":{"field":"lon","type":"quantitative"},"y":{"field":"lat","type":"quantitative"},"text":{"field":"t"}}},
{"data":{"values":[{"lon":-125.6,"lat":27.3,"t":"R = 0.37"}]},"mark":{"type":"text","fontSize":21.5,"align":"left","color":"#111"},"encoding":{"x":{"field":"lon","type":"quantitative"},"y":{"field":"lat","type":"quantitative"},"text":{"field":"t"}}}
]},
{"layer":[
{"data":{"name":"gridd_major"},"mark":{"type":"rule","stroke":"#ececec","strokeWidth":1},"encoding":{
"x":{"field":"m","type":"quantitative","scale":{"domain":[0.406,12.58],"range":[96,485.3],"nice":false,"zero":false},"axis":{"orient":"bottom","offset":-106.7,"values":[1,2,3,4,5,6,7,8,9,10,11,12],"title":"Date","labelExpr":"'2012-'+(datum.value<10?'0':'')+datum.value+'-01'","labelAngle":-90,"labelAlign":"right","labelBaseline":"middle","labelFontSize":16,"titleFontSize":16,"labelPadding":4,"titlePadding":0,"tickSize":3,"domain":false,"grid":false,"labelOverlap":false,"labelColor":"#111"}},
"x2":{"field":"m2"},
"y":{"field":"y","type":"quantitative","scale":{"domain":[-1.1,25.75],"range":[500.3,378.3],"nice":false,"zero":false},"axis":{"orient":"left","offset":-96,"values":[0,5,10,15,20,25],"title":"PM2.5 emission (g/ m²)","labelFontSize":17,"titleFontSize":16,"labelPadding":3,"titlePadding":4,"tickSize":3,"domain":false,"grid":false,"labelColor":"#111"}},
"y2":{"field":"y2"}}},
{"data":{"name":"gridd_minor"},"mark":{"type":"rule","stroke":"#f3f3f3","strokeWidth":0.7},"encoding":{"x":{"field":"m","type":"quantitative"},"x2":{"field":"m2"},"y":{"field":"y","type":"quantitative"},"y2":{"field":"y2"}}},
{"data":{"values":[{"m":0.406,"m2":12.58,"y":-1.1,"y2":25.75}]},"mark":{"type":"rect","fill":null,"stroke":"#b3b3b3","strokeWidth":1},"encoding":{"x":{"field":"m","type":"quantitative"},"x2":{"field":"m2"},"y":{"field":"y","type":"quantitative"},"y2":{"field":"y2"}}},
{"data":{"name":"d"},"mark":{"type":"line","strokeWidth":2.4,"point":{"size":20,"filled":true}},"encoding":{"x":{"field":"m","type":"quantitative"},"y":{"field":"y","type":"quantitative"},
"color":{"field":"s","type":"nominal","scale":{"domain":["Obs","ML","CLM"],"range":["#000000","#EE2A12","#6A2FC8"]},"legend":{"orient":"none","legendX":225,"legendY":349,"direction":"horizontal","title":null,"labelFontSize":12,"labelColor":"#222","symbolType":"M-1,0L1,0M0.14,0A0.14,0.14,0,1,1,-0.14,0A0.14,0.14,0,1,1,0.14,0Z","symbolSize":169,"symbolStrokeWidth":2,"columnPadding":1,"labelOffset":6}}}},
{"data":{"values":[{"m":0.866,"y":21.6,"t":"R (ML) = 0.98"},{"m":0.866,"y":16.4,"t":"R (CLM) =0.84"}]},"mark":{"type":"text","fontSize":19.3,"align":"left","color":"#111"},"encoding":{"x":{"field":"m","type":"quantitative"},"y":{"field":"y","type":"quantitative"},"text":{"field":"t"}}},
{"data":{"values":[{"m":0.52,"y":30.5,"t":"(d)"}]},"mark":{"type":"text","fontSize":19.5,"color":"#111"},"encoding":{"x":{"field":"m","type":"quantitative"},"y":{"field":"y","type":"quantitative"},"text":{"field":"t"}}}
]},
{"layer":[
{"data":{"name":"gride_major"},"mark":{"type":"rule","stroke":"#ececec","strokeWidth":1},"encoding":{
"x":{"field":"m","type":"quantitative","scale":{"domain":[0.413,12.6],"range":[563.7,964.7],"nice":false,"zero":false},"axis":{"orient":"bottom","offset":-106,"values":[1,2,3,4,5,6,7,8,9,10,11,12],"title":"Date","labelExpr":"'2012-'+(datum.value<10?'0':'')+datum.value+'-01'","labelAngle":-90,"labelAlign":"right","labelBaseline":"middle","labelFontSize":16,"titleFontSize":16,"labelPadding":4,"titlePadding":0,"tickSize":3,"domain":false,"grid":false,"labelOverlap":false,"labelColor":"#111"}},
"x2":{"field":"m2"},
"y":{"field":"y","type":"quantitative","scale":{"domain":[-1,2.75],"range":[501,379],"nice":false,"zero":false},"axis":{"orient":"left","offset":-563.7,"values":[-1,0,1,2],"format":"d","title":"Normalized PM2.5 emission","labelFontSize":17,"titleFontSize":16,"labelPadding":3,"titlePadding":1,"tickSize":3,"domain":false,"grid":false,"labelColor":"#111"}},
"y2":{"field":"y2"}}},
{"data":{"name":"gride_minor"},"mark":{"type":"rule","stroke":"#f3f3f3","strokeWidth":0.7},"encoding":{"x":{"field":"m","type":"quantitative"},"x2":{"field":"m2"},"y":{"field":"y","type":"quantitative"},"y2":{"field":"y2"}}},
{"data":{"values":[{"m":0.413,"m2":12.6,"y":-1,"y2":2.75}]},"mark":{"type":"rect","fill":null,"stroke":"#b3b3b3","strokeWidth":1},"encoding":{"x":{"field":"m","type":"quantitative"},"x2":{"field":"m2"},"y":{"field":"y","type":"quantitative"},"y2":{"field":"y2"}}},
{"data":{"name":"e"},"mark":{"type":"line","strokeWidth":2.4,"point":{"size":20,"filled":true}},"encoding":{"x":{"field":"m","type":"quantitative"},"y":{"field":"y","type":"quantitative"},
"color":{"field":"s","type":"nominal","scale":{"domain":["Obs","ML","CLM"],"range":["#000000","#EE2A12","#6A2FC8"]},"legend":{"orient":"none","legendX":699,"legendY":349,"direction":"horizontal","title":null,"labelFontSize":12,"labelColor":"#222","symbolType":"M-1,0L1,0M0.14,0A0.14,0.14,0,1,1,-0.14,0A0.14,0.14,0,1,1,0.14,0Z","symbolSize":169,"symbolStrokeWidth":2,"columnPadding":1,"labelOffset":6}}}},
{"data":{"values":[{"m":0.757,"y":3.46,"t":"(e)"}]},"mark":{"type":"text","fontSize":19.5,"color":"#111"},"encoding":{"x":{"field":"m","type":"quantitative"},"y":{"field":"y","type":"quantitative"},"text":{"field":"t"}}}
]}
]}
